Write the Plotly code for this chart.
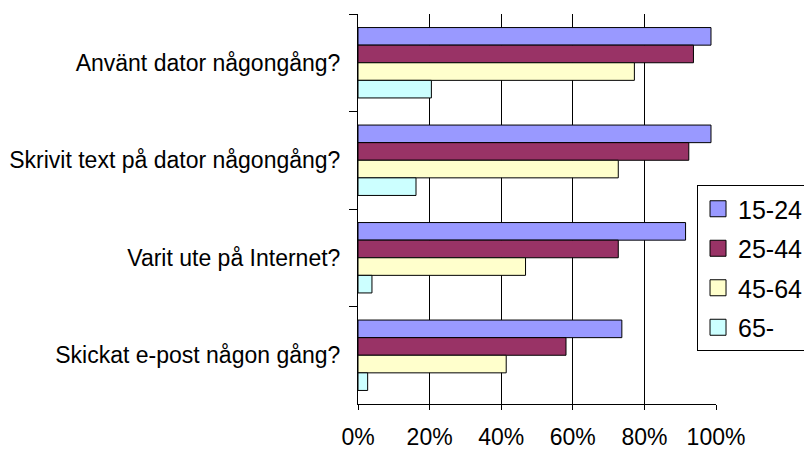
import plotly.graph_objects as go

# Survey questions (top to bottom) and age groups
questions = [
    "Använt dator någongång?",
    "Skrivit text på dator någongång?",
    "Varit ute på Internet?",
    "Skickat e-post någon gång?",
]
age_groups = ["15-24", "25-44", "45-64", "65-"]

# Share answering yes, per age group (fraction of 1)
share_15_24 = [0.986, 0.986, 0.915, 0.737]
share_25_44 = [0.937, 0.924, 0.727, 0.581]
share_45_64 = [0.772, 0.727, 0.468, 0.414]
share_65 = [0.205, 0.162, 0.039, 0.027]

series = [share_15_24, share_25_44, share_45_64, share_65]
colors = ["#9999FF", "#993366", "#FFFFCC", "#CCFFFF"]

FONT = "Liberation Sans, Arial, sans-serif"

fig = go.Figure()

for name, vals, col in zip(age_groups, series, colors):
    fig.add_trace(go.Bar(
        y=questions,
        x=vals,
        orientation="h",
        name=name,
        marker=dict(color=col, line=dict(color="black", width=1)),
        showlegend=False,
        hoverinfo="x+y+name",
    ))

# Legend entries with square swatches
for i, (name, col) in enumerate(zip(age_groups, colors)):
    fig.add_trace(go.Scatter(
        x=[None], y=[None],
        mode="markers",
        name=name,
        legendgroup=f"g{i}",
        marker=dict(symbol="square", size=16, color=col,
                    line=dict(color="black", width=1)),
        showlegend=True,
    ))

fig.update_layout(
    width=804,
    height=451,
    barmode="group",
    bargap=0.278,
    bargroupgap=0,
    plot_bgcolor="white",
    paper_bgcolor="white",
    margin=dict(l=358, r=88, t=14, b=47, autoexpand=False),
    font=dict(family=FONT, size=23, color="black"),
    legend=dict(
        x=0.947, xanchor="left",
        y=0.5615, yanchor="top",
        bgcolor="white",
        bordercolor="black",
        borderwidth=1,
        font=dict(family=FONT, size=25, color="black"),
        itemsizing="trace",
        tracegroupgap=4,
        traceorder="grouped",
    ),
    xaxis=dict(
        range=[0, 1],
        tickvals=[0, 0.2, 0.4, 0.6, 0.8, 1.0],
        tickformat=".0%",
        showgrid=True,
        gridcolor="black",
        gridwidth=1,
        showline=True,
        linecolor="black",
        linewidth=1,
        ticks="outside",
        ticklen=5,
        tickcolor="black",
        zeroline=False,
        ticklabelstandoff=7,
        tickfont=dict(family=FONT, size=23, color="black"),
    ),
    yaxis=dict(
        autorange="reversed",
        showline=True,
        linecolor="black",
        linewidth=1,
        ticks="outside",
        tickson="boundaries",
        ticklen=8,
        tickcolor="black",
        showgrid=False,
        ticklabelstandoff=12,
        tickfont=dict(family=FONT, size=23, color="black"),
    ),
)

fig.write_html("out.html")
